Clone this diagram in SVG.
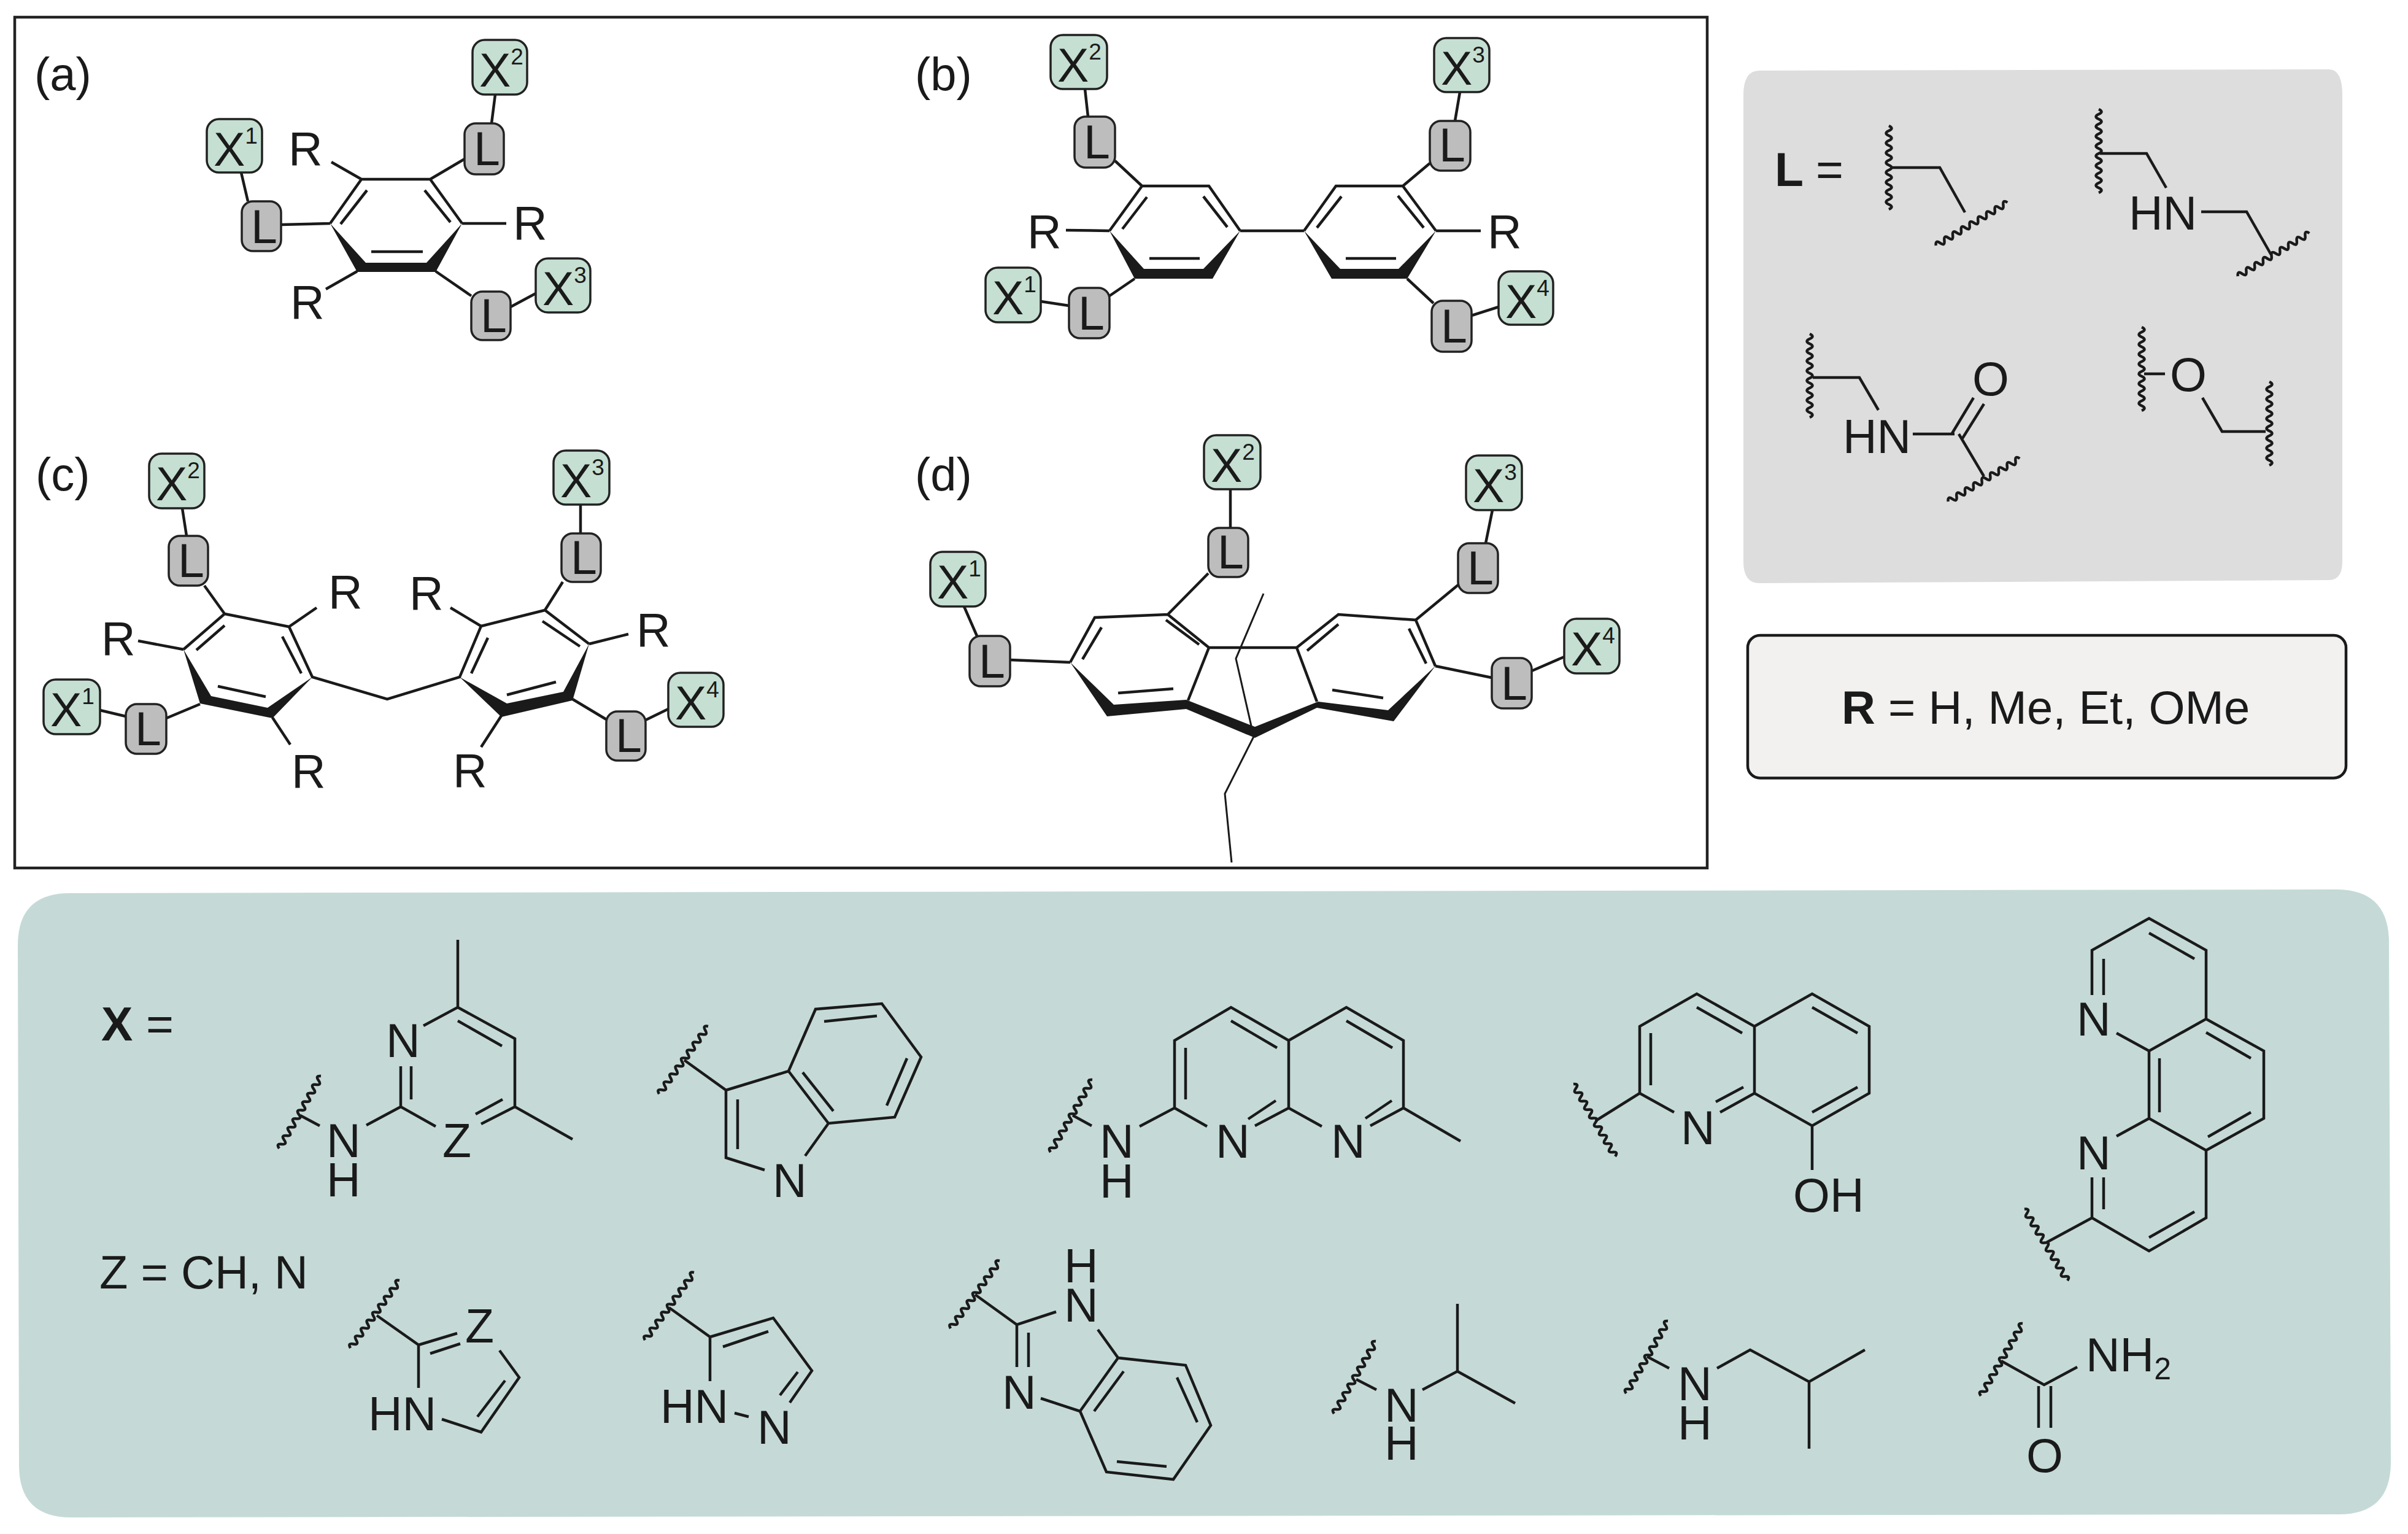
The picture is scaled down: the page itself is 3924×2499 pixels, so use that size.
<svg xmlns="http://www.w3.org/2000/svg" width="3924" height="2499" viewBox="0 0 3924 2499">
<style>
text{font-family:"Liberation Sans",Arial,sans-serif;font-size:77px;fill:#1a1a1a;transform:translateX(-3px)}
.lb{font-size:76px;transform:none}
.b{font-weight:700}
.sup{font-size:37px}
.x{fill:#c5dfd2;stroke:#222;stroke-width:3.5}
.l{fill:#bdbdbd;stroke:#222;stroke-width:3.5}
.bond{fill:none;stroke:#1a1a1a;stroke-width:4.5;stroke-linecap:butt;stroke-linejoin:miter}
.thin{fill:none;stroke:#1a1a1a;stroke-width:3}
.wedge{fill:#1a1a1a;stroke:none}
.wv{fill:none;stroke:#1a1a1a;stroke-width:4.500}
</style>
<defs><path id="w" class="wv" d="M-68 0q4-9 8 0t8 0 8 0 8 0 8 0 8 0 8 0 8 0 8 0 8 0 8 0 8 0 8 0 8 0 8 0 8 0 8 0"/></defs>
<rect width="3924" height="2499" fill="#fff"/>
<g id="frames">
<rect x="24" y="28" width="2758" height="1386" fill="#fff" stroke="#222" stroke-width="4.5"/>
<path d="M2867 115L3795 113Q3817 113 3817 155V915Q3817 945 3795 945L2867 950Q2841 950 2841 915V155Q2841 115 2867 115Z" fill="#dddddd"/>
<rect x="2848" y="1035" width="975" height="232.500" rx="20" fill="#f2f1f0" stroke="#1a1a1a" stroke-width="4.5"/>
<path d="M114 1455L3807 1449Q3892 1449 3893 1534L3896 2382Q3896 2467 3811 2467L116 2472Q31 2472 31 2387L29 1540Q29 1455 114 1455Z" fill="#c5dad7"/>
</g>
<g id="connectors">
<g id="bonds-a">
<path class="wedge" d="M538 364L596 428H695L753 364L710 443H582Z"/>
<path class="bond" d="M538 364L589 292H701L753 364M598 310L555 365M692 310L734 362M605 410H689M540 264L589 292M701 292L757 259M807 154L801 201M393 281L404 328M458 366L538 364M753 364H825M582 442L531 471M710 442L768 482M832 500L873 478"/>
</g>
<g id="bonds-b">
<path class="wedge" d="M1808 376L1864 438H1961L2021 376L1976 454H1849Z"/>
<path class="wedge" d="M2125 376L2184 438H2279L2340 376L2293 454H2170Z"/>
<path class="bond" d="M1808 376L1861 303H1970L2021 376M1869 321L1829 373M1961 320L2000 370M1873 421H1955M2125 376L2177 303H2286L2340 376M2186 320L2146 371M2278 319L2320 371M2193 421H2275M2021 376H2125M1737 375L1808 376M2340 376H2413M1768 145L1773 190M1817 262L1861 303M2379 150L2371 197M2330 266L2286 303M1696 491L1742 498M1808 482L1849 454M2293 454L2336 494M2398 514L2442 500"/>
</g>
<g id="bonds-c">
<path class="wedge" d="M299 1058L344 1134L436 1153L509 1103L444 1170L326 1146Z"/>
<path class="wedge" d="M749 1103L826 1146L918 1127L960 1049L933 1141L817 1168Z"/>
<path class="bond" d="M299 1058L366 1000L471 1021L509 1103L631 1139L749 1103L784 1020L888 994L960 1049M366 1019L320 1059M460 1037L491 1097M355 1118L433 1135M884 1012L945 1053M795 1039L768 1097M826 1132L906 1111M471 1021L516 990M784 1020L734 990M299 1058L225 1044M960 1049L1024 1033M444 1169L473 1213M817 1166L784 1217M297 828L304 873M333 954L366 1000M946 822V869M917 948L888 994M163 1157L205 1167M271 1170L326 1147M933 1139L988 1172M1052 1173L1089 1155"/>
</g>
<g id="bonds-d">
<path class="wedge" d="M1744 1079L1815 1148L1933 1140L2045 1184L2148 1143L2262 1157L2339 1085L2271 1175L2146 1153L2045 1202L1933 1155L1804 1167Z"/>
<path class="bond" d="M1744 1079L1784 1006L1903 1001L1970 1055H2113L2181 1001L2307 1010L2339 1085M1970 1055L1936 1141M2113 1055L2146 1143M1795 1022L1764 1074M1900 1010L1954 1050M1822 1129L1912 1122M2181 1017L2130 1060M2296 1024L2324 1081M2171 1124L2254 1137M2005 797V860M1969 934L1903 1001M2432 831L2421 885M2376 953L2307 1010M1571 988L1592 1036M1646 1075L1744 1079M2339 1085L2431 1104M2496 1093L2549 1070"/>
<path class="thin" d="M2059 967L2014 1073L2043 1200L1996 1293L2007 1405"/>
</g>
</g>
<g id="labels">
<text class="lb" x="56" y="147">(a)</text><text class="lb" x="1491" y="147">(b)</text><text class="lb" x="58" y="799">(c)</text><text class="lb" x="1491" y="799">(d)</text>
<text x="473" y="269">R</text><text x="839" y="390">R</text><text x="476" y="519">R</text>
<text x="1677" y="404">R</text><text x="2427" y="404">R</text>
<text x="538" y="991">R</text><text x="670" y="993">R</text><text x="168" y="1067">R</text><text x="1040" y="1053">R</text><text x="478" y="1283">R</text><text x="741" y="1282">R</text>
</g>
<g id="a-X1"><rect class="x" x="337" y="194" width="90" height="87" rx="20"/><text x="351" y="270">X<tspan class="sup" dy="-36">1</tspan></text></g>
<g id="a-L1"><rect class="l" x="394" y="328" width="64" height="81" rx="18"/><text x="412" y="396">L</text></g>
<g id="a-X2"><rect class="x" x="770" y="65" width="89" height="89" rx="20"/><text x="784" y="141">X<tspan class="sup" dy="-36">2</tspan></text></g>
<g id="a-L2"><rect class="l" x="757" y="201" width="64" height="83" rx="18"/><text x="775" y="269">L</text></g>
<g id="a-X3"><rect class="x" x="873" y="421" width="89" height="88" rx="20"/><text x="887" y="497">X<tspan class="sup" dy="-36">3</tspan></text></g>
<g id="a-L3"><rect class="l" x="768" y="475" width="64" height="79" rx="18"/><text x="786" y="541">L</text></g>
<g id="b-X1"><rect class="x" x="1606" y="436" width="90" height="89" rx="20"/><text x="1620" y="512">X<tspan class="sup" dy="-36">1</tspan></text></g>
<g id="b-L1"><rect class="l" x="1742" y="469" width="66" height="82" rx="18"/><text x="1760" y="537">L</text></g>
<g id="b-X2"><rect class="x" x="1712" y="57" width="92" height="88" rx="20"/><text x="1726" y="133">X<tspan class="sup" dy="-36">2</tspan></text></g>
<g id="b-L2"><rect class="l" x="1751" y="190" width="66" height="83" rx="18"/><text x="1769" y="258">L</text></g>
<g id="b-X3"><rect class="x" x="2337" y="62" width="90" height="88" rx="20"/><text x="2351" y="138">X<tspan class="sup" dy="-36">3</tspan></text></g>
<g id="b-L3"><rect class="l" x="2330" y="197" width="66" height="81" rx="18"/><text x="2348" y="263">L</text></g>
<g id="b-X4"><rect class="x" x="2442" y="442" width="89" height="87" rx="20"/><text x="2456" y="518">X<tspan class="sup" dy="-36">4</tspan></text></g>
<g id="b-L4"><rect class="l" x="2333" y="490" width="65" height="83" rx="18"/><text x="2351" y="558">L</text></g>
<g id="c-X1"><rect class="x" x="71" y="1107" width="92" height="89" rx="20"/><text x="85" y="1183">X<tspan class="sup" dy="-36">1</tspan></text></g>
<g id="c-L1"><rect class="l" x="205" y="1147" width="66" height="81" rx="18"/><text x="223" y="1214">L</text></g>
<g id="c-X2"><rect class="x" x="243" y="739" width="90" height="89" rx="20"/><text x="257" y="815">X<tspan class="sup" dy="-36">2</tspan></text></g>
<g id="c-L2"><rect class="l" x="275" y="873" width="64" height="81" rx="18"/><text x="293" y="940">L</text></g>
<g id="c-X3"><rect class="x" x="902" y="734" width="91" height="88" rx="20"/><text x="916" y="810">X<tspan class="sup" dy="-36">3</tspan></text></g>
<g id="c-L3"><rect class="l" x="915" y="869" width="64" height="79" rx="18"/><text x="933" y="935">L</text></g>
<g id="c-X4"><rect class="x" x="1089" y="1096" width="90" height="88" rx="20"/><text x="1103" y="1172">X<tspan class="sup" dy="-36">4</tspan></text></g>
<g id="c-L4"><rect class="l" x="988" y="1159" width="64" height="80" rx="18"/><text x="1006" y="1225">L</text></g>
<g id="d-X1"><rect class="x" x="1516" y="899" width="90" height="89" rx="20"/><text x="1530" y="975">X<tspan class="sup" dy="-36">1</tspan></text></g>
<g id="d-L1"><rect class="l" x="1580" y="1036" width="66" height="82" rx="18"/><text x="1598" y="1104">L</text></g>
<g id="d-X2"><rect class="x" x="1962" y="709" width="92" height="88" rx="20"/><text x="1976" y="785">X<tspan class="sup" dy="-36">2</tspan></text></g>
<g id="d-L2"><rect class="l" x="1969" y="860" width="65" height="80" rx="18"/><text x="1987" y="926">L</text></g>
<g id="d-X3"><rect class="x" x="2389" y="742" width="91" height="89" rx="20"/><text x="2403" y="818">X<tspan class="sup" dy="-36">3</tspan></text></g>
<g id="d-L3"><rect class="l" x="2376" y="885" width="65" height="81" rx="18"/><text x="2394" y="952">L</text></g>
<g id="d-X4"><rect class="x" x="2549" y="1008" width="90" height="89" rx="20"/><text x="2563" y="1084">X<tspan class="sup" dy="-36">4</tspan></text></g>
<g id="d-L4"><rect class="l" x="2431" y="1072" width="65" height="82" rx="18"/><text x="2449" y="1140">L</text></g>
<g id="L-def">
<text class="b" x="2895" y="303">L</text><text x="2962" y="303">=</text>
<use href="#w" transform="translate(3078 273) rotate(90)"/><path class="bond" d="M3081 273H3161L3202 346"/><use href="#w" transform="translate(3213 365) rotate(-31)"/>
<use href="#w" transform="translate(3420 246) rotate(90)"/><path class="bond" d="M3422 250H3498L3530 306M3587 345H3661L3701 415"/><text x="3472" y="374">HN</text><use href="#w" transform="translate(3705 415) rotate(-31)"/>
<use href="#w" transform="translate(2949 612) rotate(90)"/><path class="bond" d="M2954 615H3030L3061 668M3117 707H3185M3181 706L3216 648M3198 714L3233 658M3192 707L3233 776"/><text x="3006" y="738">HN</text><text x="3217" y="644">O</text><use href="#w" transform="translate(3233 782) rotate(-31)"/>
<use href="#w" transform="translate(3490 601) rotate(90)"/><path class="bond" d="M3494 609H3528M3589 648L3621 703H3692"/><text x="3539" y="637">O</text><use href="#w" transform="translate(3698 690) rotate(90)"/>
</g>
<g id="R-def"><text x="3004" y="1179" style="font-size:76px"><tspan class="b">R</tspan> = H, Me, Et, OMe</text></g>
<g id="X-def"><text class="b" x="168" y="1695">X</text><text x="241" y="1695">=</text><text x="165" y="2099" style="font-size:76px">Z = CH, N</text></g>
<g id="X-pyrimidine"><use href="#w" transform="translate(489 1812) rotate(-60)"/>
<path class="bond" d="M746 1531V1641L690 1671M746 1641L839 1692V1803L933 1856M839 1803L784 1831M746 1663L818 1704M819 1791L775 1815M710 1835L653 1803V1737M670 1791V1737M653 1803L597 1833M521 1834L489 1817"/>
<text x="632" y="1722">N</text><text x="535" y="1885">N</text><text x="535" y="1949">H</text><text x="724" y="1885">Z</text></g>
<g id="X-indole"><use href="#w" transform="translate(1114 1727) rotate(-54)"/>
<path class="bond" d="M1115 1727L1183 1776V1886L1246 1906M1202 1791V1872M1183 1776L1285 1745L1329 1644L1437 1635L1501 1722L1458 1820L1350 1830L1285 1745M1343 1664L1429 1655M1478 1724L1445 1801M1358 1810L1308 1747M1350 1830L1312 1883"/>
<text x="1262" y="1950">N</text></g>
<g id="X-naphthyridine"><use href="#w" transform="translate(1746 1818) rotate(-60)"/>
<path class="bond" d="M1748 1817L1779 1834M1857 1835L1914 1805V1695L2006 1641L2100 1695V1805M2100 1695L2194 1641L2287 1695V1805L2233 1834M1932 1707V1791M2006 1663L2081 1707M2194 1663L2269 1707M2045 1834L2100 1805L2154 1835M2034 1823L2079 1793M2225 1822L2268 1793M1914 1805L1967 1835M2287 1805L2380 1859"/>
<text x="1795" y="1886">N</text><text x="1795" y="1951">H</text><text x="1984" y="1886">N</text><text x="2172" y="1886">N</text></g>
<g id="X-hydroxyquinoline"><use href="#w" transform="translate(2598 1825) rotate(60)"/>
<path class="bond" d="M2600 1826L2672 1781V1672L2765 1619L2859 1672V1781L2953 1834L3046 1781V1672L2953 1619L2859 1672M2672 1781L2728 1812M2859 1781L2803 1812M2841 1771L2796 1795M2690 1683V1768M2765 1641L2839 1683M2953 1641L3027 1683M3027 1771L2953 1812M2953 1834V1906"/>
<text x="2742" y="1864">N</text><text x="2925" y="1974">OH</text></g>
<g id="X-phenanthroline"><use href="#w" transform="translate(3334 2028) rotate(59)"/>
<path class="bond" d="M3409 1621V1548L3502 1496L3595 1548V1660L3502 1712V1822L3595 1874V1984L3502 2038L3409 1984V1918M3595 1660L3689 1712V1822L3595 1874M3428 1562V1621M3449 1683L3502 1712M3449 1851L3502 1822M3428 1970V1918M3502 1520L3576 1562M3595 1682L3668 1724M3668 1812L3598 1852M3519 1724V1812M3576 1974L3502 2016M3409 1984L3335 2024"/>
<text x="3387" y="1687">N</text><text x="3387" y="1905">N</text></g>
<g id="X-imidazole"><use href="#w" transform="translate(611 2141) rotate(-54)"/>
<path class="bond" d="M614 2143L682 2191V2261M682 2191L745 2172M701 2205L750 2189M814 2200L846 2244L784 2333L720 2312M823 2249L778 2308"/>
<text x="603" y="2330">HN</text><text x="761" y="2187">Z</text></g>
<g id="X-pyrazole"><use href="#w" transform="translate(1091 2128) rotate(-54)"/>
<path class="bond" d="M1090 2130L1157 2178V2250M1157 2178L1260 2147L1323 2233L1287 2285M1178 2194L1252 2169M1271 2273L1300 2235M1197 2302L1220 2308"/>
<text x="1079" y="2318">HN</text><text x="1237" y="2352">N</text></g>
<g id="X-benzimidazole"><use href="#w" transform="translate(1589 2109) rotate(-54)"/>
<path class="bond" d="M1589 2109L1657 2158L1721 2137M1657 2158V2227M1676 2171V2227M1789 2166L1822 2212L1932 2224L1973 2322L1912 2410L1803 2398L1760 2299L1822 2212M1696 2278L1760 2299M1831 2234L1783 2299M1918 2244L1951 2317M1820 2381L1901 2389"/>
<text x="1737" y="2153">N</text><text x="1737" y="2089">H</text><text x="1636" y="2295">N</text></g>
<g id="X-isopropylamine"><use href="#w" transform="translate(2208 2244) rotate(-60)"/>
<path class="bond" d="M2210 2247L2243 2264M2318 2264L2375 2234V2124M2375 2234L2469 2286"/>
<text x="2259" y="2316">N</text><text x="2259" y="2378">H</text></g>
<g id="X-isobutylamine"><use href="#w" transform="translate(2684 2211) rotate(-60)"/>
<path class="bond" d="M2684 2210L2720 2229M2798 2229L2852 2199L2948 2251L3039 2199M2948 2251V2360"/>
<text x="2737" y="2281">N</text><text x="2737" y="2345">H</text></g>
<g id="X-amide"><use href="#w" transform="translate(3262 2215) rotate(-60)"/>
<path class="bond" d="M3261 2217L3331 2256L3385 2227M3322 2258V2326M3342 2258V2326"/>
<text x="3402" y="2234">NH<tspan style="font-size:50px" dy="13">2</tspan></text><text x="3305" y="2398">O</text></g>
</svg>
